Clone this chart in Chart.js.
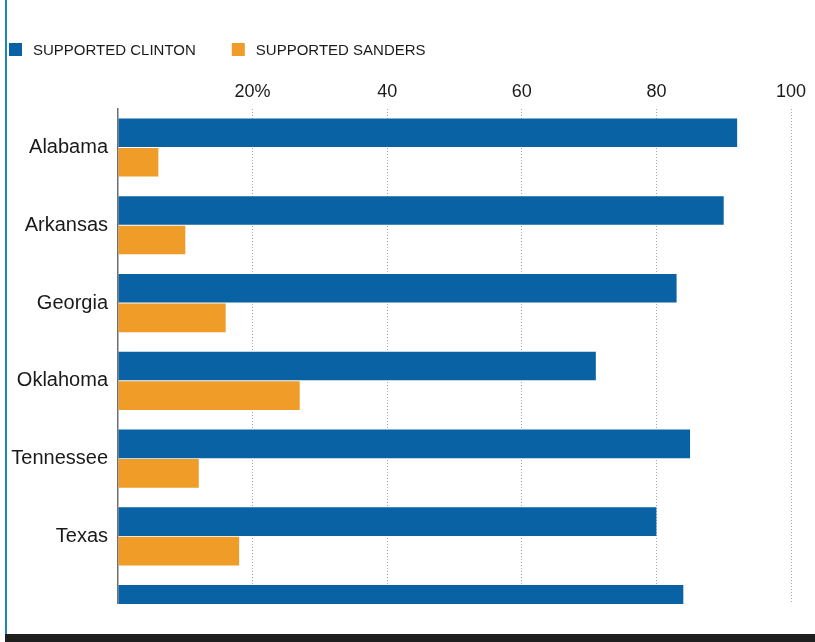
<!DOCTYPE html>
<html>
<head>
<meta charset="utf-8">
<script src="https://cdn.jsdelivr.net/npm/chart.js@4.4.1/dist/chart.umd.min.js"></script>
<style>
    html, body { margin: 0; padding: 0; background: #fff; }
    #frame { position: relative; width: 815px; height: 642px; overflow: hidden; }
    #clip { position: absolute; left: 0; top: 0; width: 815px; height: 604px; overflow: hidden; }
    #leftRule { position: absolute; left: 5px; top: 0; width: 2px; height: 642px; background: #1d87b6; }
    #bottomRule { position: absolute; left: 5px; top: 634px; width: 810px; height: 8px; background: #1f1f1f; }
</style>
</head>
<body>
<div id="frame">
    <div id="clip"><canvas id="chart" width="815" height="675"></canvas></div>
    <div id="leftRule"></div>
    <div id="bottomRule"></div>
</div>
<script>
// Data (share of black voters, %)
const STATES = ['Alabama', 'Arkansas', 'Georgia', 'Oklahoma', 'Tennessee', 'Texas', 'Virginia'];
const CLINTON = [92, 90, 83, 71, 85, 80, 84];
const SANDERS = [6, 10, 16, 27, 12, 18, 16];
const SERIES_LABELS = ['SUPPORTED CLINTON', 'SUPPORTED SANDERS'];
const X_TICKS = [0, 20, 40, 60, 80, 100];

const BLUE = '#0862a4';
const ORANGE = '#ef9c29';
const FONT = 'Arial, "Liberation Sans", sans-serif';

// Small legend drawn in the top-left corner
const cornerLegend = {
    id: 'cornerLegend',
    afterDraw: function (chart) {
        const ctx = chart.ctx;
        let x = 9;
        const y = 50;
        ctx.save();
        ctx.font = '15px ' + FONT;
        ctx.textBaseline = 'middle';
        ctx.textAlign = 'left';
        chart.data.datasets.forEach(function (ds) {
            ctx.fillStyle = ds.backgroundColor;
            ctx.fillRect(x, y - 7, 13, 13);
            ctx.fillStyle = '#1a1a1a';
            ctx.fillText(ds.label, x + 24, y + 1);
            x += 24 + ctx.measureText(ds.label).width + 36;
        });
        ctx.restore();
    }
};

new Chart(document.getElementById('chart'), {
    type: 'bar',
    data: {
        labels: STATES,
        datasets: [
            { label: SERIES_LABELS[0], data: CLINTON, backgroundColor: BLUE },
            { label: SERIES_LABELS[1], data: SANDERS, backgroundColor: ORANGE },
        ],
    },
    options: {
        indexAxis: 'y',
        responsive: false,
        animation: false,
        categoryPercentage: 0.76,
        barPercentage: 0.97,
        layout: { padding: { top: 75, right: 24, left: 0, bottom: 0 } },
        plugins: {
            legend: { display: false },
            tooltip: { enabled: false },
        },
        scales: {
            x: {
                position: 'top',
                min: 0,
                max: 100,
                afterBuildTicks: function (s) {
                    s.ticks = X_TICKS.map(function (v) { return { value: v }; });
                },
                ticks: {
                    color: '#1a1a1a',
                    font: { family: FONT, size: 18 },
                    padding: 6,
                    callback: function (v) {
                        if (v === 0) return '';
                        return v === 20 ? v + '%' : String(v);
                    },
                },
                grid: {
                    drawTicks: false,
                    color: function (c) { return c.tick && c.tick.value === 0 ? 'rgba(0,0,0,0)' : '#a8a8a8'; },
                    lineWidth: 1,
                },
                border: { display: false, dash: [1, 2] },
            },
            y: {
                afterFit: function (s) { s.width = 118; },
                ticks: {
                    color: '#1a1a1a',
                    font: { family: FONT, size: 20 },
                    padding: 10,
                },
                grid: { display: false, drawTicks: false },
                border: { display: true, color: '#6e6e6e', width: 1.5 },
            },
        },
    },
    plugins: [cornerLegend],
});
</script>
</body>
</html>
